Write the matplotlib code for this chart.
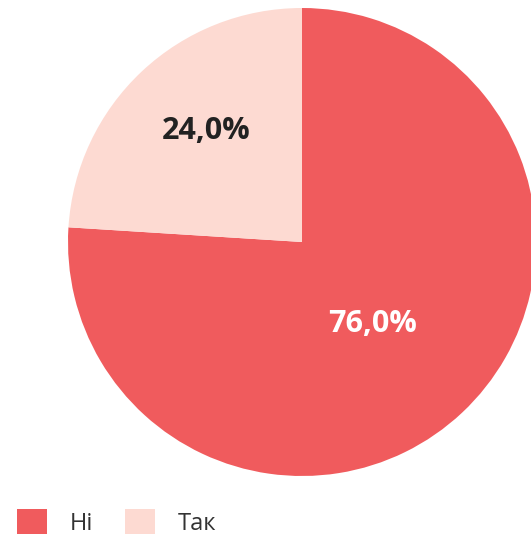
import numpy as np
import matplotlib.pyplot as plt

plt.rcParams['font.family'] = ['Open Sans', 'DejaVu Sans']

# Data
labels = ['Ні', 'Так']
shares = [76.0, 24.0]
colors = ['#f05b5d', '#fddad2']
label_colors = ['white', '#222222']
label_radius = [0.46, 0.625]

W, H = 531, 536
fig = plt.figure(figsize=(W / 100, H / 100), dpi=100)

# pie centre (302, 242) px, radius 234 px
cx, cy, r = 302, 242, 234
ax = fig.add_axes([(cx - r) / W, (H - cy - r) / H, 2 * r / W, 2 * r / H])

wedges, _ = ax.pie(shares, colors=colors, startangle=90, counterclock=False,
                   radius=1, wedgeprops=dict(linewidth=0))
ax.set_xlim(-1, 1)
ax.set_ylim(-1, 1)
ax.set_aspect('equal')
ax.axis('off')

# percentage labels near the middle angle of each wedge
for w, val, col, rr in zip(wedges, shares, label_colors, label_radius):
    mid = np.deg2rad((w.theta1 + w.theta2) / 2 - 2.5)
    ax.text(rr * np.cos(mid), rr * np.sin(mid), f'{val:.1f}%'.replace('.', ','),
            ha='center', va='center', fontsize=22, fontweight='bold', color=col)

fig.legend(wedges, labels, loc='lower left', bbox_to_anchor=(-4 / W, -21 / H),
           ncol=2, frameon=False, fontsize=17, handlelength=1.27, handleheight=1.27,
           handletextpad=0.95, columnspacing=1.35, labelcolor='#333333')

fig.savefig('out.png', dpi=100)
plt.close()
